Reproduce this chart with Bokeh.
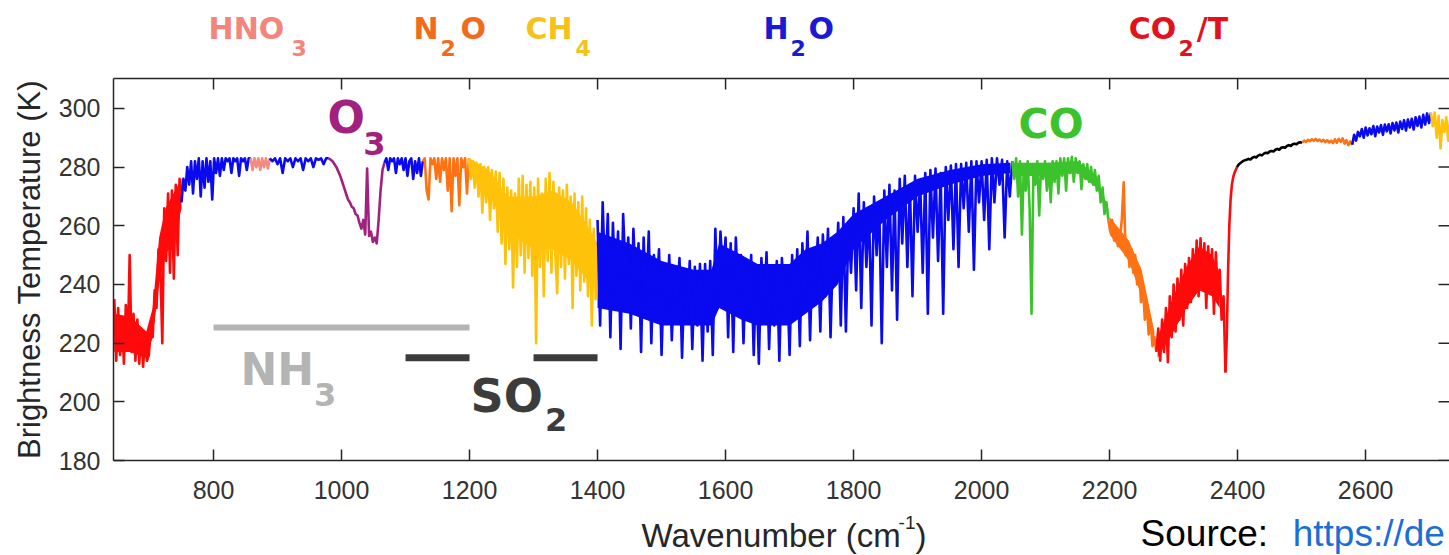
import numpy as np
from bokeh.plotting import figure
from bokeh.layouts import column
from bokeh.models import Range1d, LinearAxis, LabelSet, FixedTicker, ColumnDataSource
from bokeh.core.properties import value
from bokeh.embed import file_html
from bokeh.resources import INLINE

# ---------------- data ----------------
X_TICKS = [800, 1000, 1200, 1400, 1600, 1800, 2000, 2200, 2400, 2600]
Y_TICKS = [180, 200, 220, 240, 260, 280, 300]
X_MIN, X_MAX = 643.75, 2731
Y_MIN, Y_MAX = 180, 310.2

# each spectrum piece: start wavenumber (cm-1), sampling step, brightness temperatures (K)
CO2_LW_START, CO2_LW_STEP = 645, 3
CO2_LW_BT = [235, 214, 232, 216, 229, 213, 233, 218, 250, 217, 230, 214, 228, 213, 225, 212,
             222, 214, 216, 226, 222, 238, 232, 252, 246, 220, 266, 248, 271, 244, 272, 242,
             274, 250, 276, 270]

WIN1_START, WIN1_STEP = 750, 3
WIN1_BT = [268, 276, 272, 280, 274, 282, 271, 282, 276, 283, 270, 282, 273, 283, 275, 282,
           269, 283, 278, 283, 277, 283, 279, 283, 282, 283, 278, 283, 282, 283, 277, 283,
           282, 283, 279, 283, 283]

HNO3_START, HNO3_STEP = 858, 3
HNO3_BT = [283, 279, 283, 280, 283, 279, 283, 280, 283, 279.5, 283]

WIN2_START, WIN2_STEP = 888, 4
WIN2_BT = [283, 282, 283, 281, 283, 278, 283, 282, 283, 280, 283, 282, 283, 279, 283, 282,
           283, 280, 283, 282.5, 283, 281, 283, 283]

O3_START, O3_STEP = 980, 3
O3_BT = [283, 282.5, 282, 281, 280, 278.5, 277, 275, 273, 271, 269, 268, 266.5, 266, 264,
         263.5, 261, 259, 262, 257, 279.5, 256.5, 258, 254.5, 256, 254, 262, 272, 279, 281.5]

WIN3_START, WIN3_STEP = 1067, 3
WIN3_BT = [281.5, 283, 279, 283, 282, 283, 278, 283, 281, 283, 279, 283, 277, 282, 283, 276,
           282, 278, 283, 277, 282]

N2O_START, N2O_STEP = 1127, 3
N2O_BT = [282, 283, 272, 269, 283, 281, 283, 276, 283, 275, 283, 279, 283, 272, 283, 265,
          283, 277, 283, 267, 283, 280, 283, 271, 283]

CH4_START, CH4_STEP = 1199, 3
CH4_BT = [283, 276, 282, 273, 281.5, 270, 281, 264.5, 280, 268, 280, 262, 279, 266, 278.5,
          258, 278, 254, 276, 247, 273, 252, 272, 239, 271, 246, 276, 250, 277, 244, 274,
          249, 275, 243, 273, 220, 276, 246, 271, 236, 276, 248, 278, 244, 275, 250, 237,
          273, 246, 272, 242, 274, 247, 270, 232, 271, 243, 268, 238, 270, 241, 266, 236,
          262, 226, 259, 235, 252]

H2O_START, H2O_STEP = 1400, 4
H2O_BT = [262, 226, 268, 240, 264, 222, 261, 236, 258, 218, 264, 242, 256, 225, 259, 238,
          254, 217, 256, 232, 258, 220, 250, 236, 252, 216, 246, 230, 250, 221, 244, 234,
          249, 215, 245, 228, 248, 218, 246, 226, 247, 214, 247, 224, 248, 216, 259, 232,
          258, 243, 256, 222, 254, 217, 256, 235, 250, 220, 248, 228, 250, 216, 246, 213,
          249, 230, 251, 218, 246, 226, 248, 214, 249, 232, 244, 216, 250, 228, 252, 219,
          254, 234, 258, 221, 252, 238, 256, 224, 257, 236, 259, 222, 255, 240, 261, 226,
          263, 224, 260, 244, 266, 238, 271, 232, 268, 246, 266, 226, 270, 250, 268, 220,
          272, 246, 274, 238, 272, 228, 276, 254, 277, 246, 274, 236, 277, 258, 275, 244,
          278, 230, 279, 256, 279.5, 248, 278, 230, 280, 262, 280.5, 252, 281, 246, 281, 266,
          281.5, 258, 282, 245, 282, 268, 282, 262, 282.5, 252, 283, 268, 283, 274, 282.5,
          256, 282, 270, 282]

CO_START, CO_STEP = 2048, 3
CO_BT = [282, 276, 283, 270, 282, 257, 281, 272, 282, 266, 230, 281, 274, 282, 263.5, 281,
         276, 282, 272, 281, 268, 282, 275, 282, 271, 283, 277, 283, 272, 283, 278, 283.5,
         275, 283, 278, 282, 272.5, 281, 276, 281, 275, 280, 274, 279, 272, 277, 268, 273,
         264, 268, 262]

N2O_B_START, N2O_B_STEP = 2198, 3
N2O_B_BT = [262, 258, 262, 255, 257, 253, 255, 262, 274.8, 250, 254, 246, 252, 244, 250,
            240, 246, 234, 240, 228, 234, 223, 228, 219, 222, 217]

CO2_SW_START, CO2_SW_STEP = 2273, 3
CO2_SW_BT = [217, 225, 214, 228, 217, 232, 213.5, 236, 222, 240, 224, 242, 228, 245, 226,
             247, 232, 249, 234, 252, 238, 255, 236, 255.7, 240, 254, 232, 253, 238, 252,
             230, 251, 235, 245, 228, 236, 210]

CO2_EDGE_START, CO2_EDGE_STEP = 2381, 2
CO2_EDGE_BT = [210, 222, 244, 260, 269, 274, 276.5, 278, 279, 280]

T_START, T_STEP = 2399, 3
T_BT = [280, 281, 281.5, 282, 282.3, 282.5, 282.8, 282.6, 283.2, 283.5, 283.3, 283.9, 284.2,
        284.0, 284.6, 284.9, 284.7, 285.3, 285.5, 285.3, 285.9, 286.2, 285.9, 286.6, 286.8,
        286.6, 287.2, 287.5, 287.2, 287.8, 288.0, 287.8, 288.3, 288.5, 288.4]

N2O_C_START, N2O_C_STEP = 2501, 3
N2O_C_BT = [288.4, 289.0, 288.6, 289.3, 288.8, 289.5, 289.0, 289.6, 288.9, 289.4, 288.7,
            289.3, 288.5, 289.2, 288.4, 289.0, 288.2, 289.5, 288.3, 289.6, 288.6, 289.8,
            288.0, 289.2, 287.5, 288.8, 287.6]

H2O_B_START, H2O_B_STEP = 2579, 3
H2O_B_BT = [287.6, 291, 289, 292, 290.5, 293, 290, 293.5, 290.8, 293.2, 291.2, 294, 290.5,
            293.8, 291.8, 294.3, 291, 294.5, 292.2, 294.6, 291.5, 295, 292.5, 295.2, 291.8,
            295.5, 293, 296, 292.5, 296.2, 293.5, 296.5, 292.8, 297, 294, 297.2, 293.5,
            297.8, 294.5, 298.3, 295, 298.5]

CH4_B_START, CH4_B_STEP = 2702, 3
CH4_B_BT = [298.5, 294, 298.6, 290, 297.5, 286.4, 296, 292, 297, 289, 296]

# dense cores of the bands (lower / upper edge of the solid part)
H2O_BODY_WN = [1400, 1450, 1500, 1550, 1578, 1590, 1625, 1650, 1700, 1725, 1750, 1775,
               1800, 1850, 1900, 1950, 2000, 2045]
H2O_BODY_LO = [232, 230, 226, 226, 226, 232, 228, 226, 226, 230, 234, 240,
               252, 262, 270, 274, 277, 278]
H2O_BODY_HI = [258, 254, 248, 245, 245, 254, 250, 247, 247, 252, 254, 258,
               264, 270, 276, 279, 281, 281.5]
CH4_BODY_WN = [1200, 1230, 1260, 1300, 1330, 1360, 1390, 1400]
CH4_BODY_LO = [279, 271, 258, 252, 252, 248, 240, 238]
CH4_BODY_HI = [283, 279, 270, 270, 272, 268, 258, 254]
CO2_LW_BODY_WN = [645, 670, 695, 705, 715, 725, 740, 750]
CO2_LW_BODY_LO = [217, 217, 215, 222, 240, 250, 256, 266]
CO2_LW_BODY_HI = [230, 229, 224, 232, 256, 266, 272, 276]
CO2_SW_BODY_WN = [2275, 2300, 2320, 2340, 2360, 2372]
CO2_SW_BODY_LO = [215, 224, 232, 238, 236, 232]
CO2_SW_BODY_HI = [222, 236, 246, 253, 250, 244]
N2O_B_BODY_WN = [2200, 2230, 2250, 2270]
N2O_B_BODY_LO = [257, 248, 236, 219]
N2O_B_BODY_HI = [263, 255, 245, 224]
CO_BODY_WN = [2050, 2100, 2150, 2180, 2198]
CO_BODY_LO = [277, 277, 278, 273, 263]
CO_BODY_HI = [281.5, 281.5, 282, 277, 266]

# gas sensitivity bars
NH3_BAND = [800, 1200]
NH3_LEVEL = 225.3
SO2_BANDS = [[1100, 1200], [1300, 1400]]
SO2_LEVEL = 215.0

# colours
RED = "#ff0a0a"
BLUE = "#0a0af0"
ORANGE = "#ff7214"
GOLD = "#ffc20a"
SALMON = "#f48a80"
PURPLE = "#a2207e"
GREEN = "#3cc22c"
BLACK = "#000000"

SEGMENTS = [
    (CO2_LW_START, CO2_LW_STEP, CO2_LW_BT, RED),
    (WIN1_START, WIN1_STEP, WIN1_BT, BLUE),
    (HNO3_START, HNO3_STEP, HNO3_BT, SALMON),
    (WIN2_START, WIN2_STEP, WIN2_BT, BLUE),
    (O3_START, O3_STEP, O3_BT, PURPLE),
    (WIN3_START, WIN3_STEP, WIN3_BT, BLUE),
    (N2O_START, N2O_STEP, N2O_BT, ORANGE),
    (CH4_START, CH4_STEP, CH4_BT, GOLD),
    (H2O_START, H2O_STEP, H2O_BT, BLUE),
    (CO_START, CO_STEP, CO_BT, GREEN),
    (N2O_B_START, N2O_B_STEP, N2O_B_BT, ORANGE),
    (CO2_SW_START, CO2_SW_STEP, CO2_SW_BT, RED),
    (CO2_EDGE_START, CO2_EDGE_STEP, CO2_EDGE_BT, RED),
    (T_START, T_STEP, T_BT, BLACK),
    (N2O_C_START, N2O_C_STEP, N2O_C_BT, ORANGE),
    (H2O_B_START, H2O_B_STEP, H2O_B_BT, BLUE),
    (CH4_B_START, CH4_B_STEP, CH4_B_BT, GOLD),
]
BODIES = [
    (H2O_BODY_WN, H2O_BODY_LO, H2O_BODY_HI, BLUE),
    (CH4_BODY_WN, CH4_BODY_LO, CH4_BODY_HI, GOLD),
    (CO2_LW_BODY_WN, CO2_LW_BODY_LO, CO2_LW_BODY_HI, RED),
    (CO2_SW_BODY_WN, CO2_SW_BODY_LO, CO2_SW_BODY_HI, RED),
    (N2O_B_BODY_WN, N2O_B_BODY_LO, N2O_B_BODY_HI, ORANGE),
    (CO_BODY_WN, CO_BODY_LO, CO_BODY_HI, GREEN),
]

# label texts outside the frame: text, wavenumber, temperature of the letters' middle, size, colour
TOP_LABELS = [
    ("HNO", 792.2, 327.2, 30, "#f4857d"), ("3", 921.9, 320.6, 22, "#f4857d"),
    ("N", 1112.5, 327.2, 30, "#f26a1b"), ("2", 1154.7, 320.6, 22, "#f26a1b"),
    ("O", 1186.0, 327.2, 30, "#f26a1b"),
    ("CH", 1287.5, 327.2, 30, "#f6c21a"), ("4", 1365.6, 320.6, 22, "#f6c21a"),
    ("H", 1659.4, 327.2, 30, "#1a1ad2"), ("2", 1701.6, 320.6, 22, "#1a1ad2"),
    ("O", 1729.7, 327.2, 30, "#1a1ad2"),
    ("CO", 2229.7, 327.2, 30, "#e2121c"), ("2", 2307.8, 320.6, 22, "#e2121c"),
    ("/T", 2336.0, 327.2, 30, "#e2121c"),
]
BOTTOM_LABELS = [
    ("Wavenumber (cm", 1468.8, 154.5, 33, "#262626"),
    ("-1", 1870.3, 158.8, 19, "#262626"),
    (")", 1896.9, 154.5, 33, "#262626"),
    ("Source:", 2248.4, 155.2, 37, "#000000"),
    ("https://de", 2486.0, 155.2, 37, "#1a6ed6"),
]
# labels inside the frame: text, wavenumber, temperature of the baseline, size, colour
INNER_LABELS = [
    ("O", 978.1, 291.5, 44, PURPLE), ("3", 1034.0, 284.0, 32, PURPLE),
    ("CO", 2057.8, 289.8, 41, GREEN),
    ("NH", 842.2, 205.6, 44, "#b4b4b4"), ("3", 957.0, 198.7, 32, "#b4b4b4"),
    ("SO", 1201.6, 196.4, 46, "#3c3c3c"), ("2", 1318.0, 190.2, 32, "#3c3c3c"),
]

# ---------------- layout geometry ----------------
W = 1449
FRAME_H = 382
TOP_H, MAIN_TOP, MAIN_BOTTOM = 74, 4, 51
MAIN_H = MAIN_TOP + FRAME_H + MAIN_BOTTOM
BOT_H = 555 - TOP_H - MAIN_H
K_PER_PX = (Y_MAX - Y_MIN) / FRAME_H
AX = "#262626"

xr = Range1d(X_MIN, X_MAX)


def strip(height, y0, y1):
    f = figure(width=W, height=height, output_backend="svg", toolbar_location=None,
               x_range=xr, y_range=Range1d(y0, y1), x_axis_location=None,
               y_axis_location=None, min_border_left=113, min_border_right=0,
               min_border_top=0, min_border_bottom=0,
               background_fill_color="white", border_fill_color="white")
    f.grid.visible = False
    f.outline_line_color = None
    return f


def add_texts(f, rows, font, style):
    src = ColumnDataSource(dict(
        x=[r[1] for r in rows], y=[r[2] for r in rows], text=[r[0] for r in rows],
        size=[f"{r[3]}px" for r in rows], color=[r[4] for r in rows]))
    f.text(x="x", y="y", text="text", source=src, text_font=value(font),
           text_font_style=style, text_font_size="size", text_color="color",
           text_align="left", text_baseline="middle")


top_fig = strip(TOP_H, Y_MAX + MAIN_TOP * K_PER_PX, Y_MAX + (MAIN_TOP + TOP_H) * K_PER_PX)
add_texts(top_fig, TOP_LABELS, "DejaVu Sans", "bold")

bot_fig = strip(BOT_H, Y_MIN - (MAIN_BOTTOM + BOT_H) * K_PER_PX, Y_MIN - MAIN_BOTTOM * K_PER_PX)
add_texts(bot_fig, BOTTOM_LABELS, "Liberation Sans", "normal")

p = figure(width=W, height=MAIN_H, output_backend="svg", toolbar_location=None,
           x_range=xr, y_range=Range1d(Y_MIN, Y_MAX),
           min_border_left=113, min_border_right=0, min_border_top=MAIN_TOP,
           min_border_bottom=MAIN_BOTTOM,
           background_fill_color="white", border_fill_color="white")
p.grid.visible = False
p.outline_line_color = None

for wn, lo, hi, col in BODIES:
    p.varea(x=wn, y1=lo, y2=hi, fill_color=col)

for start, step, bt, col in SEGMENTS:
    wn = start + step * np.arange(len(bt))
    p.line(wn, bt, line_color=col, line_width=2.6, line_join="round")

p.line(NH3_BAND, [NH3_LEVEL, NH3_LEVEL], line_color="#b4b4b4", line_width=6, line_cap="butt")
for band in SO2_BANDS:
    p.line(band, [SO2_LEVEL, SO2_LEVEL], line_color="#3c3c3c", line_width=7, line_cap="butt")

# inward ticks on the top and right edges of the frame
p.ray(x=X_TICKS, y=[Y_MAX] * len(X_TICKS), length=11, length_units="screen",
      angle=-np.pi / 2, line_color=AX, line_width=1.5)
p.ray(x=[X_MAX] * len(Y_TICKS), y=Y_TICKS, length=11, length_units="screen",
      angle=np.pi, line_color=AX, line_width=1.5)


def style_axis(ax, standoff):
    ax.axis_line_color = AX
    ax.axis_line_width = 1.5
    ax.major_tick_line_color = AX
    ax.major_tick_line_width = 1.5
    ax.major_tick_in = 11
    ax.major_tick_out = 0
    ax.minor_tick_in = 0
    ax.minor_tick_out = 0
    ax.major_label_text_font = "Liberation Sans"
    ax.major_label_text_font_size = "25px"
    ax.major_label_text_color = "#333333"
    ax.major_label_standoff = standoff
    ax.axis_label_text_font = "Liberation Sans"
    ax.axis_label_text_font_style = "normal"
    ax.axis_label_text_color = "#262626"


xa = p.xaxis[0]
xa.ticker = FixedTicker(ticks=X_TICKS)
style_axis(xa, 20)

ya = p.yaxis[0]
ya.ticker = FixedTicker(ticks=Y_TICKS)
style_axis(ya, 13)
ya.axis_label = "Brightness Temperature (K)"
ya.axis_label_text_font_size = "31px"
ya.axis_label_standoff = 9

top = LinearAxis(ticker=FixedTicker(ticks=[]))
style_axis(top, 0)
p.add_layout(top, "above")

src_in = ColumnDataSource(dict(
    x=[r[1] for r in INNER_LABELS], y=[r[2] for r in INNER_LABELS],
    text=[r[0] for r in INNER_LABELS], size=[f"{r[3]}px" for r in INNER_LABELS],
    color=[r[4] for r in INNER_LABELS]))
p.add_layout(LabelSet(x="x", y="y", text="text", source=src_in,
                      text_font=value("DejaVu Sans"), text_font_style="bold",
                      text_font_size="size", text_color="color",
                      text_align="left", text_baseline="alphabetic"))

layout = column(top_fig, p, bot_fig, spacing=0)
open("out.html", "w").write(file_html(layout, INLINE))
